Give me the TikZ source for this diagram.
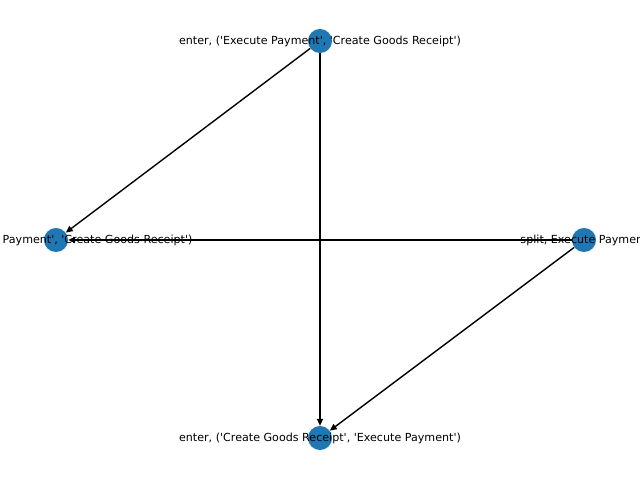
\documentclass[tikz,border=0pt]{standalone}
\usepackage{fontspec}
\setmainfont{DejaVu Sans}
\usetikzlibrary{arrows.meta}
\definecolor{nodeblue}{HTML}{1F77B4}
\newcommand{\sq}{\textquotesingle}
\tikzset{
  vertex/.style={circle,fill=nodeblue,draw=none,minimum size=17.3pt,inner sep=0pt},
  vlabel/.style={font=\fontsize{8pt}{9.6pt}\selectfont,text=black,inner sep=0pt},
  edge/.style={draw=black,line width=1pt,-{Triangle[length=5pt,width=4.5pt]}}
}
\begin{document}
\begin{tikzpicture}[x=0.72pt,y=-0.72pt]
\useasboundingbox (0,0) rectangle (640,480);
\clip (0,0) rectangle (640,480);
\node[vertex] (top) at (320,41) {};
\node[vertex] (left) at (56,240) {};
\node[vertex] (right) at (584,240) {};
\node[vertex] (bottom) at (320,438) {};
\draw[edge] (top) -- (left);
\draw[edge] (top) -- (bottom);
\draw[edge] (right) -- (left);
\draw[edge] (right) -- (bottom);
\node[vlabel] (ltop) at (320,41) {enter, (\sq Execute Payment\sq, \sq Create Goods Receipt\sq)};
\node[vlabel] (lleft) at (56,240) {exit, (\sq Execute Payment\sq, \sq Create Goods Receipt\sq)};
\node[vlabel] (lright) at (584,240) {split, Execute Payment};
\node[vlabel] (lbottom) at (320,438) {enter, (\sq Create Goods Receipt\sq, \sq Execute Payment\sq)};
\end{tikzpicture}
\end{document}
